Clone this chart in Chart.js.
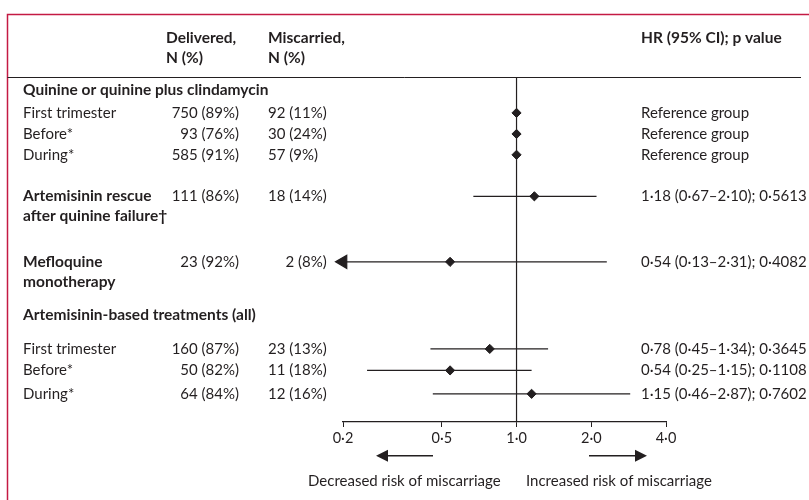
<!DOCTYPE html>
<html>
<head>
<meta charset="utf-8">
<script src="https://cdn.jsdelivr.net/npm/chart.js@4"></script>
<style>
  html, body { margin: 0; padding: 0; background: #fff; }
  #wrap { width: 809px; height: 500px; }
</style>
</head>
<body>
<div id="wrap"><canvas id="forest" width="809" height="500"></canvas></div>
<script>
// rows of the table, top to bottom
const rowLabels = [
  "Quinine or quinine plus clindamycin", "First trimester", "Before*", "During*",
  "Artemisinin rescue", "after quinine failure\u2020",
  "Mefloquine", "monotherapy",
  "Artemisinin-based treatments (all)", "First trimester", "Before*", "During*"
];
const rowBold = [true, false, false, false, true, true, true, true, true, false, false, false];
const rowPos = [0, 1.07, 2.05, 3.02, 4.95, 5.86, 8.0, 8.93, 10.47, 12.05, 13.05, 14.14];

const delivered = [null, "750 (89%)", "93 (76%)", "585 (91%)", "111 (86%)", null, "23 (92%)", null, null, "160 (87%)", "50 (82%)", "64 (84%)"];
const miscarried = [null, "92 (11%)", "30 (24%)", "57 (9%)", "18 (14%)", null, "\u2007\u20072 (8%)", null, null, "23 (13%)", "11 (18%)", "12 (16%)"];
const hrText = [null, "Reference group", "Reference group", "Reference group",
  "1\u00b718 (0\u00b767\u20132\u00b710); 0\u00b75613", null,
  "0\u00b754 (0\u00b713\u20132\u00b731); 0\u00b74082", null, null,
  "0\u00b778 (0\u00b745\u20131\u00b734); 0\u00b73645",
  "0\u00b754 (0\u00b725\u20131\u00b715); 0\u00b71108",
  "1\u00b715 (0\u00b746\u20132\u00b787); 0\u00b77602"];

const hr     = [null, 1, 1, 1, 1.18, null, 0.54, null, null, 0.78, 0.54, 1.15];
const ciLow  = [null, null, null, null, 0.67, null, 0.13, null, null, 0.45, 0.25, 0.46];
const ciHigh = [null, null, null, null, 2.10, null, 2.31, null, null, 1.34, 1.15, 2.87];

const xTicks = [0.2, 0.5, 1, 2, 4];
const xMin = 0.2, xMax = 4;
const yMin = -0.6, yMax = 15.45;

const ink = "#231f20";
const FONT = "Lato, 'Open Sans', sans-serif";

// build datasets
const datasets = [];
datasets.push({
  type: "line",
  data: [{ x: 1, y: yMin }, { x: 1, y: yMax }],
  borderColor: ink, borderWidth: 1.2, pointRadius: 0
});
hr.forEach((v, i) => {
  if (ciLow[i] == null) return;
  const cut = ciLow[i] < xMin;
  datasets.push({
    type: "line",
    data: [{ x: cut ? xMin : ciLow[i], y: rowPos[i] }, { x: ciHigh[i], y: rowPos[i] }],
    borderColor: ink, borderWidth: 1.2,
    pointStyle: "triangle",
    pointRotation: 270,
    pointRadius: cut ? [7.5, 0] : 0,
    pointBackgroundColor: ink, pointBorderColor: ink,
    clip: false
  });
});
datasets.push({
  type: "scatter",
  data: hr.map((v, i) => v == null ? null : { x: v, y: rowPos[i] }).filter(d => d),
  pointStyle: "rectRot", pointRadius: 4.6,
  pointBackgroundColor: ink, pointBorderColor: ink, pointBorderWidth: 1
});

const tablePlugin = {
  id: "table",
  beforeDraw(chart) {
    const ctx = chart.ctx;
    ctx.save();
    ctx.fillStyle = "#fff";
    ctx.fillRect(0, 0, chart.width, chart.height);
    // journal frame
    ctx.strokeStyle = "#c41a43";
    ctx.lineWidth = 1.5;
    ctx.beginPath();
    ctx.moveTo(7.5, chart.height);
    ctx.lineTo(7.5, 14.5);
    ctx.lineTo(chart.width, 14.5);
    ctx.stroke();
    // header rule
    ctx.strokeStyle = ink;
    ctx.lineWidth = 1;
    ctx.beginPath();
    ctx.moveTo(7.5, chart.chartArea.top + 0.5);
    ctx.lineTo(801, chart.chartArea.top + 0.5);
    ctx.stroke();
    ctx.restore();
  },
  afterDraw(chart) {
    const ctx = chart.ctx;
    const y = chart.scales.y;
    ctx.save();
    ctx.fillStyle = ink;
    ctx.textBaseline = "middle";
    const bold = "bold 15.5px " + FONT, reg = "15px " + FONT;

    // column headers
    ctx.font = bold;
    ctx.textAlign = "left";
    ctx.fillText("Delivered,", 166, y.getPixelForValue(-2.42));
    ctx.fillText("N (%)", 166, y.getPixelForValue(-1.49));
    ctx.fillText("Miscarried,", 268, y.getPixelForValue(-2.42));
    ctx.fillText("N (%)", 268, y.getPixelForValue(-1.49));
    ctx.fillText("HR (95% CI); p value", 641, y.getPixelForValue(-2.42));

    rowLabels.forEach((lab, i) => {
      const py = y.getPixelForValue(rowPos[i]);
      ctx.font = rowBold[i] ? bold : reg;
      ctx.textAlign = "left";
      ctx.fillText(lab, 23, py);
      ctx.font = reg;
      if (delivered[i]) { ctx.textAlign = "right"; ctx.fillText(delivered[i], 239, py); }
      ctx.textAlign = "left";
      if (miscarried[i]) ctx.fillText(miscarried[i], 268, py);
      if (hrText[i]) ctx.fillText(hrText[i], 641, py);
    });

    // direction arrows under the axis
    const ay = y.getPixelForValue(17.02);
    ctx.strokeStyle = ink;
    ctx.lineWidth = 1.3;
    ctx.beginPath();
    ctx.moveTo(433, ay); ctx.lineTo(386, ay);
    ctx.moveTo(589, ay); ctx.lineTo(637, ay);
    ctx.stroke();
    ctx.beginPath();
    ctx.moveTo(376, ay); ctx.lineTo(388, ay - 6); ctx.lineTo(388, ay + 6); ctx.closePath();
    ctx.moveTo(647, ay); ctx.lineTo(635, ay - 6); ctx.lineTo(635, ay + 6); ctx.closePath();
    ctx.fill();

    ctx.font = reg;
    ctx.textAlign = "left";
    const ty = y.getPixelForValue(18.19);
    ctx.fillText("Decreased risk of miscarriage", 308, ty);
    ctx.fillText("Increased risk of miscarriage", 526, ty);
    ctx.restore();
  }
};

new Chart(document.getElementById("forest"), {
  data: { datasets: datasets },
  options: {
    responsive: false,
    animation: false,
    events: [],
    layout: { padding: { left: 343, right: 143, top: 77, bottom: 0 } },
    plugins: { legend: { display: false }, tooltip: { enabled: false } },
    scales: {
      x: {
        type: "logarithmic",
        min: xMin, max: xMax,
        afterBuildTicks: scale => { scale.ticks = xTicks.map(v => ({ value: v })); },
        afterFit: scale => { scale.height = 78; },
        ticks: {
          color: ink,
          font: { family: FONT, size: 14.5 },
          padding: 3,
          maxRotation: 0,
          autoSkip: false,
          callback: v => Number(v).toFixed(1).replace(".", "\u00b7")
        },
        grid: { drawOnChartArea: false, drawTicks: true, tickLength: 5, color: ink, lineWidth: 1 },
        border: { display: true, color: ink, width: 1.2 }
      },
      y: {
        type: "linear",
        display: false,
        reverse: true,
        min: yMin, max: yMax
      }
    }
  },
  plugins: [tablePlugin]
});
</script>
</body>
</html>
